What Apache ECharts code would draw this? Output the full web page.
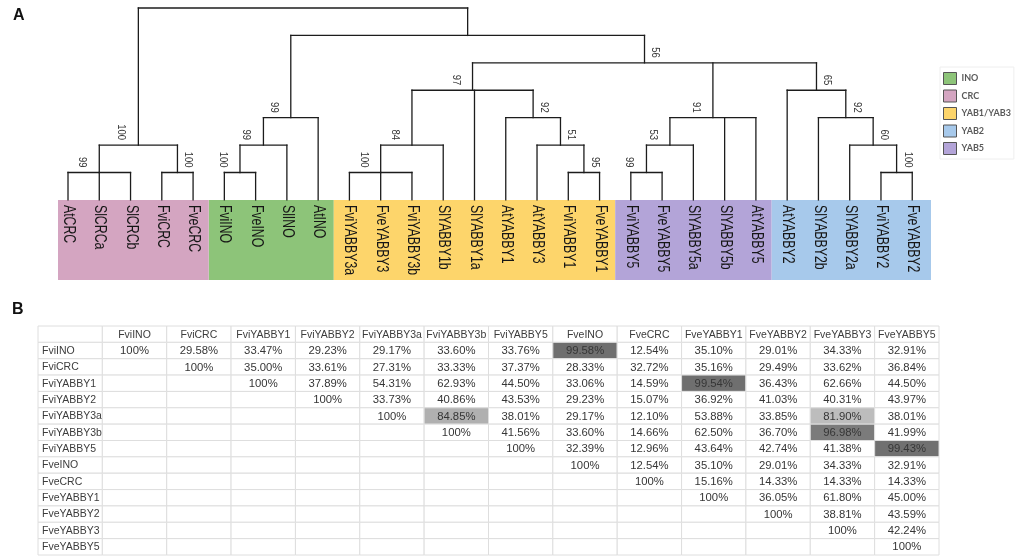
<!DOCTYPE html>
<html>
<head>
<meta charset="utf-8">
<style>
  html, body { margin: 0; padding: 0; background: #fff; }
  #chart { width: 1021px; height: 559px; }
</style>
<script src="https://cdn.jsdelivr.net/npm/echarts@6.0.0/dist/echarts.min.js"></script>
</head>
<body>
<div id="chart"></div>
<script>
// ---- panel A: tree leaves, in drawing order ----
const leafNames = [
  'AtCRC', 'SlCRCa', 'SlCRCb', 'FviCRC', 'FveCRC',
  'FviINO', 'FveINO', 'SlINO', 'AtINO',
  'FviYABBY3a', 'FveYABBY3', 'FviYABBY3b', 'SlYABBY1b', 'SlYABBY1a', 'AtYABBY1', 'AtYABBY3', 'FviYABBY1', 'FveYABBY1',
  'FviYABBY5', 'FveYABBY5', 'SlYABBY5a', 'SlYABBY5b', 'AtYABBY5',
  'AtYABBY2', 'SlYABBY2b', 'SlYABBY2a', 'FviYABBY2', 'FveYABBY2'
];
const leafGroups = [
  'CRC', 'CRC', 'CRC', 'CRC', 'CRC',
  'INO', 'INO', 'INO', 'INO',
  'YAB1/YAB3', 'YAB1/YAB3', 'YAB1/YAB3', 'YAB1/YAB3', 'YAB1/YAB3', 'YAB1/YAB3', 'YAB1/YAB3', 'YAB1/YAB3', 'YAB1/YAB3',
  'YAB5', 'YAB5', 'YAB5', 'YAB5', 'YAB5',
  'YAB2', 'YAB2', 'YAB2', 'YAB2', 'YAB2'
];
// legend order
const groupNames = ['INO', 'CRC', 'YAB1/YAB3', 'YAB2', 'YAB5'];
const groupColors = ['#8dc479', '#d4a5c1', '#fdd56b', '#a7c9eb', '#b3a4d8'];

// clade = [height level, bootstrap, ...children]; a number is a leaf index (leaves sit at level 7)
const tree = [0, null,
  [5, 100, [6, 99, 0, 1, 2], [6, 100, 3, 4]],
  [1, null,
    [4, 99, [5, 99, [6, 100, 5, 6], 7], 8],
    [2, 56,
      [3, 97, [5, 84, [6, 100, 9, 10, 11], 12], 13, [4, 92, 14, [5, 51, 15, [6, 95, 16, 17]]]],
      [4, 91, [5, 53, [6, 99, 18, 19], 20], 21, 22],
      [3, 65, 23, [4, 92, 24, [5, 60, 25, [6, 100, 26, 27]]]]
    ]
  ]
];

// ---- panel B: identity table (row i starts at column i) ----
const tableNames = ['FviINO', 'FviCRC', 'FviYABBY1', 'FviYABBY2', 'FviYABBY3a', 'FviYABBY3b', 'FviYABBY5',
  'FveINO', 'FveCRC', 'FveYABBY1', 'FveYABBY2', 'FveYABBY3', 'FveYABBY5'];
const identityRows = [
  [100, 29.58, 33.47, 29.23, 29.17, 33.60, 33.76, 99.58, 12.54, 35.10, 29.01, 34.33, 32.91],
  [100, 35.00, 33.61, 27.31, 33.33, 37.37, 28.33, 32.72, 35.16, 29.49, 33.62, 36.84],
  [100, 37.89, 54.31, 62.93, 44.50, 33.06, 14.59, 99.54, 36.43, 62.66, 44.50],
  [100, 33.73, 40.86, 43.53, 29.23, 15.07, 36.92, 41.03, 40.31, 43.97],
  [100, 84.85, 38.01, 29.17, 12.10, 53.88, 33.85, 81.90, 38.01],
  [100, 41.56, 33.60, 14.66, 62.50, 36.70, 96.98, 41.99],
  [100, 32.39, 12.96, 43.64, 42.74, 41.38, 99.43],
  [100, 12.54, 35.10, 29.01, 34.33, 32.91],
  [100, 15.16, 14.33, 14.33, 14.33],
  [100, 36.05, 61.80, 45.00],
  [100, 38.81, 43.59],
  [100, 42.24],
  [100]
];

// ---------------------------------------------------------------
const LEAF_LEVEL = 7;
const X_MIN = -0.32, X_MAX = 27.6, Y_MAX = 9.92;
const FONT = '"Liberation Sans", Arial, sans-serif';

// walk the tree -> branch segments and bootstrap labels
const edges = [];
const supports = [];
function layout(node, isLast) {
  if (typeof node === 'number') return { x: node, y: LEAF_LEVEL };
  const [level, bs, ...kids] = node;
  const pts = kids.map((k, i) => layout(k, i === kids.length - 1));
  const xs = pts.map(p => p.x);
  const lo = Math.min(...xs), hi = Math.max(...xs);
  edges.push([lo, level, hi, level]);
  pts.forEach(p => edges.push([p.x, p.y, p.x, level]));
  const x = (lo + hi) / 2;
  if (bs != null) supports.push([x, level, bs, isLast ? 1 : 0]);
  return { x, y: level };
}
layout(tree, false);

// contiguous runs of each group along the leaves
const runs = {};
leafGroups.forEach((g, i) => {
  if (!runs[g]) runs[g] = [i, i];
  runs[g][1] = i;
});

const bandSeries = groupNames.map((g, gi) => ({
  type: 'custom',
  name: g,
  xAxisIndex: 0, yAxisIndex: 0,
  itemStyle: { color: groupColors[gi] },
  data: [runs[g]],
  renderItem: (params, api) => {
    const s = api.value(0), e = api.value(1);
    const x0 = s === 0 ? X_MIN : s - 0.5;
    const x1 = e === leafNames.length - 1 ? X_MAX : e + 0.5;
    const p0 = api.coord([x0, LEAF_LEVEL]);
    const p1 = api.coord([x1, Y_MAX]);
    return {
      type: 'rect',
      shape: { x: p0[0], y: p0[1], width: p1[0] - p0[0], height: p1[1] - p0[1] },
      style: { fill: groupColors[gi] }
    };
  }
}));

// table cells
const cells = [];
for (let r = 0; r <= tableNames.length; r++) {
  for (let c = 0; c <= tableNames.length; c++) {
    let text = '', fill = '#fff', left = false, head = false;
    if (r === 0 && c > 0) { text = tableNames[c - 1]; head = true; }
    else if (c === 0 && r > 0) { text = tableNames[r - 1]; left = true; head = true; }
    else if (r > 0 && c > 0 && c >= r) {
      const v = identityRows[r - 1][c - r];
      text = v === 100 ? '100%' : v.toFixed(2) + '%';
      if (v < 100 && v >= 80) {
        const g = Math.round(189 - 4.4 * (v - 81.9));
        fill = 'rgb(' + g + ',' + g + ',' + g + ')';
      }
    }
    cells.push({ c, r, text, fill, left, head });
  }
}

const chart = echarts.init(document.getElementById('chart'));
chart.setOption({
  animation: false,
  backgroundColor: '#fff',
  title: [
    { text: 'A', left: 13, top: 8, padding: 0, textStyle: { fontFamily: FONT, fontSize: 16, fontWeight: 'bold', color: '#111' } },
    { text: 'B', left: 12, top: 302, padding: 0, textStyle: { fontFamily: FONT, fontSize: 16, fontWeight: 'bold', color: '#111' } }
  ],
  legend: {
    data: groupNames,
    orient: 'vertical',
    left: 940, top: 67,
    padding: [5, 3, 4, 3],
    itemGap: 4.5,
    itemWidth: 13, itemHeight: 12,
    icon: 'rect',
    backgroundColor: '#fff',
    borderColor: '#eeeeee', borderWidth: 1,
    itemStyle: { borderColor: '#555', borderWidth: 1 },
    textStyle: { fontFamily: 'Lato, sans-serif', fontSize: 9, fontWeight: 'bold', color: '#5a5a5a' },
    selectedMode: false
  },
  grid: [
    { left: 58, top: 8, width: 873, height: 272 },
    { left: 38, top: 326, width: 901, height: 229 }
  ],
  xAxis: [
    { gridIndex: 0, type: 'value', min: X_MIN, max: X_MAX, show: false },
    { gridIndex: 1, type: 'category', data: cells.slice(0, tableNames.length + 1).map((d, i) => i), show: false }
  ],
  yAxis: [
    { gridIndex: 0, type: 'value', min: 0, max: Y_MAX, inverse: true, show: false },
    { gridIndex: 1, type: 'category', data: cells.slice(0, tableNames.length + 1).map((d, i) => i), inverse: true, show: false }
  ],
  series: [
    ...bandSeries,
    {
      type: 'custom',
      name: 'branches',
      xAxisIndex: 0, yAxisIndex: 0,
      silent: true,
      data: edges,
      renderItem: (params, api) => {
        const a = api.coord([api.value(0), api.value(1)]);
        const b = api.coord([api.value(2), api.value(3)]);
        return {
          type: 'line',
          shape: { x1: a[0], y1: a[1], x2: b[0], y2: b[1] },
          style: { stroke: '#1c1c1c', lineWidth: 1.3, lineCap: 'square' }
        };
      }
    },
    {
      type: 'custom',
      name: 'support',
      xAxisIndex: 0, yAxisIndex: 0,
      silent: true,
      data: supports,
      renderItem: (params, api) => {
        const p = api.coord([api.value(0), api.value(1)]);
        const right = api.value(3) === 1;
        return {
          type: 'text',
          x: p[0] + (right ? 11 : -17),
          y: p[1] - 5,
          rotation: -Math.PI / 2,
          scaleY: 1.15,
          style: {
            text: String(api.value(2)),
            fontFamily: FONT, fontSize: 9.5, fill: '#333',
            align: 'right', verticalAlign: 'middle'
          }
        };
      }
    },
    {
      type: 'custom',
      name: 'leaves',
      xAxisIndex: 0, yAxisIndex: 0,
      silent: true,
      data: leafNames.map((n, i) => [i, LEAF_LEVEL]),
      renderItem: (params, api) => {
        const p = api.coord([api.value(0), api.value(1)]);
        return {
          type: 'text',
          x: p[0] + 0.5,
          y: p[1] + 5,
          rotation: -Math.PI / 2,
          scaleY: 1.3,
          style: {
            text: leafNames[params.dataIndex],
            fontFamily: FONT, fontSize: 12.3, fill: '#161616',
            align: 'left', verticalAlign: 'middle'
          }
        };
      }
    },
    {
      type: 'custom',
      name: 'table',
      xAxisIndex: 1, yAxisIndex: 1,
      silent: true,
      data: cells.map(d => [d.c, d.r]),
      renderItem: (params, api) => {
        const d = cells[params.dataIndex];
        const p = api.coord([api.value(0), api.value(1)]);
        const sz = api.size([1, 1]);
        const x0 = p[0] - sz[0] / 2, y0 = p[1] - sz[1] / 2;
        return {
          type: 'group',
          children: [
            {
              type: 'rect',
              shape: { x: x0, y: y0, width: sz[0], height: sz[1] },
              style: { fill: d.fill, stroke: '#dedede', lineWidth: 1 }
            },
            {
              type: 'text',
              x: d.left ? x0 + 4 : p[0],
              y: p[1] + 0.5,
              style: {
                text: d.text,
                fontFamily: FONT,
                fontSize: d.head ? 10.5 : 11.3,
                fill: d.head ? '#3c3c3c' : '#363636',
                align: d.left ? 'left' : 'center',
                verticalAlign: 'middle'
              }
            }
          ]
        };
      }
    }
  ]
});
</script>
</body>
</html>
